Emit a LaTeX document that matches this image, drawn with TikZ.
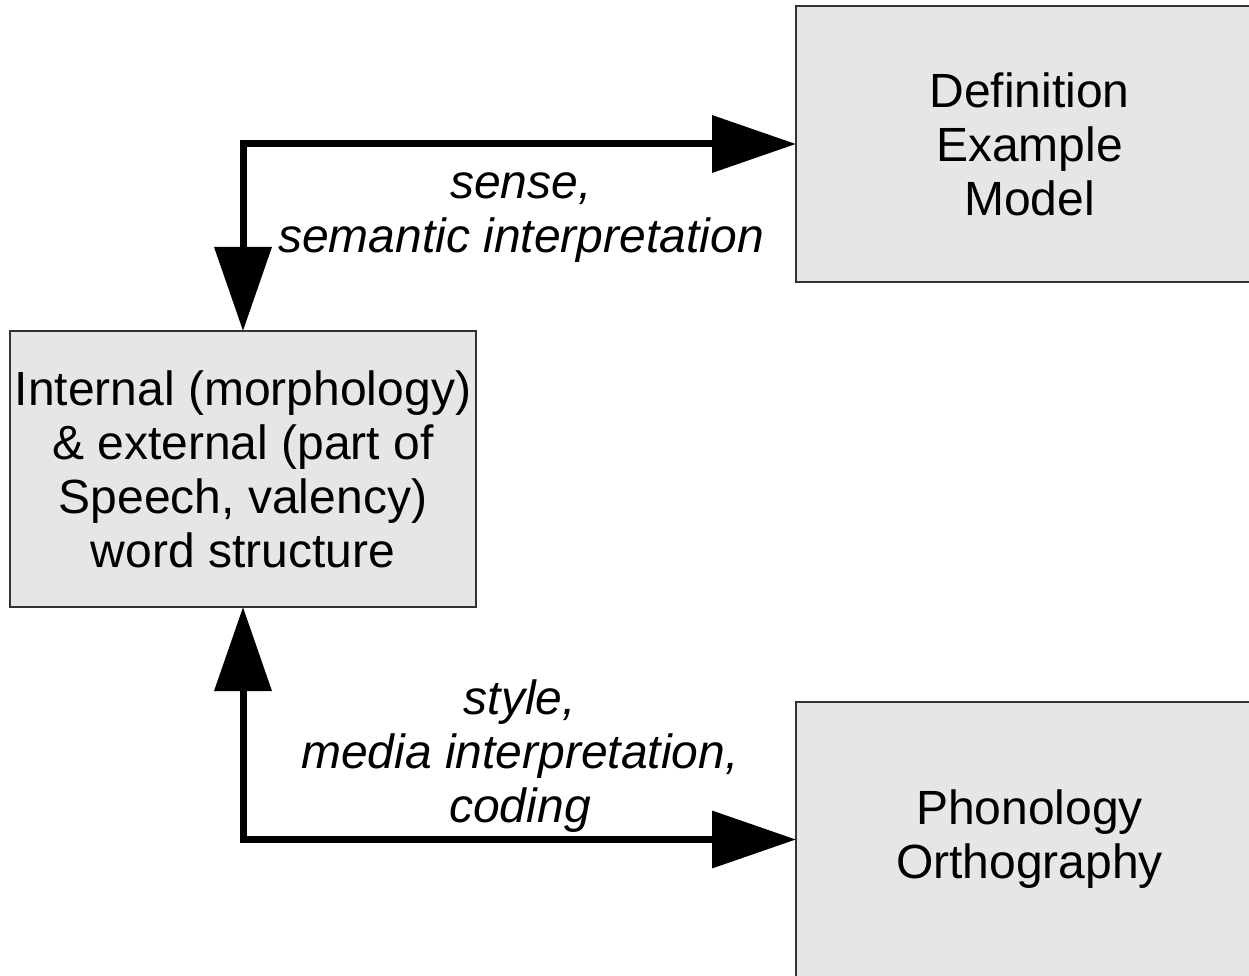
\documentclass[tikz,border=0pt]{standalone}
\usepackage{fontspec}
\setmainfont{Liberation Sans}
\usetikzlibrary{arrows.meta}
\definecolor{boxfill}{HTML}{E6E6E6}
\definecolor{boxline}{HTML}{333333}
\tikzset{
  wordbox/.style={draw=boxline, line width=1.5pt, fill=boxfill, rectangle,
    inner sep=0pt, outer sep=0pt, align=center,
    font=\fontsize{48}{54}\selectfont},
  lbl/.style={inner sep=0pt, align=center, anchor=base,
    font=\fontsize{48}{54}\selectfont\itshape},
  link/.style={line width=7pt, line join=miter,
    {Triangle[length=84pt,width=56pt]}-{Triangle[length=84pt,width=56pt]}}
}
\begin{document}
\begin{tikzpicture}[x=1pt,y=-1pt]
\useasboundingbox (0,0) rectangle (1249,976);
\fill[white] (0,0) rectangle (1249,976);
\node[wordbox, minimum width=466pt, minimum height=276pt] (L) at (243,469)
  {Internal (morphology)\\ \& external (part of\\ Speech, valency)\\ word structure};
\node[wordbox, minimum width=467pt, minimum height=276pt] (D) at (1029.5,144)
  {Definition\\ Example\\ Model};
\node[wordbox, minimum width=467pt, minimum height=275pt] (P) at (1029.5,839.5)
  {Phonology\\ Orthography};
\draw[link] (L.north) |- (D.west);
\draw[link] (L.south) |- (P.west);
\node[lbl] (s) at (521,252) {sense,\\ semantic interpretation};
\node[lbl] (m) at (520,822) {style,\\ media interpretation,\\ coding};
\end{tikzpicture}
\end{document}
